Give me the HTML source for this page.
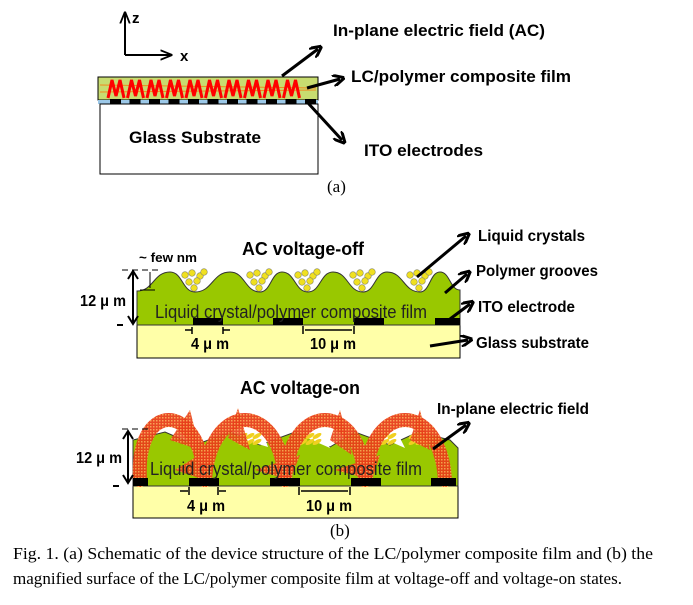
<!DOCTYPE html>
<html><head><meta charset="utf-8"><style>
html,body{margin:0;padding:0;background:#fff}
svg{display:block}
.b{font-family:"Liberation Sans",Arial,sans-serif;font-weight:bold;fill:#000}
.s{font-family:"Liberation Serif",serif;fill:#000}
</style></head><body>
<svg width="693" height="605" viewBox="0 0 693 605" xmlns="http://www.w3.org/2000/svg">
<defs>
<marker id="ah" viewBox="0 0 10 10" refX="6" refY="5" markerWidth="4" markerHeight="4" orient="auto"><path d="M0,0 L10,5 L0,10" fill="none" stroke="#000" stroke-width="2.5"/></marker>
<marker id="ahs" viewBox="0 0 10 10" refX="8" refY="5" markerWidth="6" markerHeight="6" orient="auto"><path d="M0,1 L10,5 L0,9" fill="none" stroke="#000" stroke-width="1.5"/></marker>
<pattern id="dots" width="3" height="3" patternUnits="userSpaceOnUse"><rect width="3" height="3" fill="#e8401a"/><rect width="1.5" height="1.5" fill="#f8a050"/></pattern>
</defs>

<!-- (a) -->
<g>
<line x1="125" y1="55" x2="125" y2="14" stroke="#000" stroke-width="2" marker-end="url(#ahs)"/>
<line x1="125" y1="55" x2="170" y2="55" stroke="#000" stroke-width="2" marker-end="url(#ahs)"/>
<text x="132" y="23" class="b" font-size="15">z</text>
<text x="180" y="61" class="b" font-size="15">x</text>
</g>
<rect x="98" y="77" width="220" height="23" fill="#c8dc70" stroke="#000" stroke-width="1"/>
<line x1="100" y1="85" x2="316" y2="88" stroke="#f08a20" stroke-width="1"/>
<line x1="100" y1="92" x2="316" y2="90" stroke="#f08a20" stroke-width="1"/>
<rect x="98" y="100" width="220" height="4" fill="#9cc8e8"/>
<g id="ito-a"></g>
<rect x="100" y="104" width="218" height="70" fill="#fff" stroke="#000" stroke-width="1"/>
<text x="195" y="143" class="b" font-size="17" text-anchor="middle" textLength="132" lengthAdjust="spacingAndGlyphs">Glass Substrate</text>
<path id="zig" d="" fill="none" stroke="#f00" stroke-width="3"/>
<line x1="282" y1="76" x2="318" y2="49" stroke="#000" stroke-width="3" marker-end="url(#ah)"/>
<line x1="307" y1="88" x2="340" y2="79" stroke="#000" stroke-width="3" marker-end="url(#ah)"/>
<line x1="308" y1="103" x2="342" y2="140" stroke="#000" stroke-width="3" marker-end="url(#ah)"/>
<text x="333" y="36" class="b" font-size="17" textLength="212" lengthAdjust="spacingAndGlyphs">In-plane electric field (AC)</text>
<text x="351" y="82" class="b" font-size="17" textLength="220" lengthAdjust="spacingAndGlyphs">LC/polymer composite film</text>
<text x="364" y="156" class="b" font-size="17" textLength="119" lengthAdjust="spacingAndGlyphs">ITO electrodes</text>
<text x="327" y="192" class="s" font-size="17">(a)</text>

<!-- (b) off -->
<text x="303" y="255" class="b" font-size="18" text-anchor="middle" textLength="122" lengthAdjust="spacingAndGlyphs">AC voltage-off</text>
<text x="139" y="262" class="b" font-size="13" textLength="58" lengthAdjust="spacingAndGlyphs">~ few nm</text>
<rect x="137" y="325" width="323" height="33" fill="#ffffa8" stroke="#000" stroke-width="1"/>
<path id="wave" d="" fill="#99c800" stroke="#333" stroke-width="1"/>
<g id="lcdots"></g>
<rect x="193" y="318" width="30" height="7" fill="#000"/><rect x="273" y="318" width="30" height="7" fill="#000"/><rect x="354" y="318" width="30" height="7" fill="#000"/><rect x="435" y="318" width="25" height="7" fill="#000"/>
<text x="155" y="318" font-family="Liberation Sans,Arial,sans-serif" font-size="18" fill="#222" textLength="272" lengthAdjust="spacingAndGlyphs">Liquid crystal/polymer composite film</text>
<line x1="122" y1="270" x2="160" y2="270" stroke="#000" stroke-dasharray="6,4"/>
<line x1="140" y1="290" x2="155" y2="290" stroke="#000"/>
<line x1="133" y1="273" x2="133" y2="322" stroke="#000" stroke-width="2"/>
<path d="M128,279 L133,271 L138,279 M128,316 L133,324 L138,316" fill="none" stroke="#000" stroke-width="2"/>
<line x1="150" y1="272" x2="150" y2="288" stroke="#000" stroke-width="1"/>
<line x1="117" y1="325" x2="123" y2="325" stroke="#000" stroke-width="2"/>
<text x="80" y="306" class="b" font-size="16" textLength="46" lengthAdjust="spacingAndGlyphs">12 μ m</text>
<path d="M185,330 L192,330 M192,327 L192,334 M223,327 L223,334 M230,330 L223,330" stroke="#000" stroke-width="1.5"/>
<text x="191" y="349" class="b" font-size="16" textLength="38" lengthAdjust="spacingAndGlyphs">4 μ m</text>
<path d="M303,326 L303,334 M354,326 L354,334 M305,330 L352,330" stroke="#000" stroke-width="1.5"/>
<text x="310" y="349" class="b" font-size="16" textLength="46" lengthAdjust="spacingAndGlyphs">10 μ m</text>
<line x1="417" y1="277" x2="466" y2="236" stroke="#000" stroke-width="3" marker-end="url(#ah)"/>
<line x1="445" y1="293" x2="467" y2="274" stroke="#000" stroke-width="3" marker-end="url(#ah)"/>
<line x1="450" y1="319" x2="470" y2="304" stroke="#000" stroke-width="3" marker-end="url(#ah)"/>
<line x1="430" y1="346" x2="468" y2="340" stroke="#000" stroke-width="3" marker-end="url(#ah)"/>
<text x="478" y="241" class="b" font-size="16" textLength="107" lengthAdjust="spacingAndGlyphs">Liquid crystals</text>
<text x="476" y="276" class="b" font-size="16" textLength="122" lengthAdjust="spacingAndGlyphs">Polymer grooves</text>
<text x="478" y="312" class="b" font-size="16" textLength="97" lengthAdjust="spacingAndGlyphs">ITO electrode</text>
<text x="476" y="348" class="b" font-size="16" textLength="113" lengthAdjust="spacingAndGlyphs">Glass substrate</text>

<!-- (b) on -->
<text x="300" y="394" class="b" font-size="18" text-anchor="middle" textLength="120" lengthAdjust="spacingAndGlyphs">AC voltage-on</text>
<rect x="133" y="486" width="325" height="32" fill="#ffffa8" stroke="#000" stroke-width="1"/>
<path d="M133,486 L133,440 L165,432 L195,445 L230,432 L260,445 L295,432 L330,447 L355,432 L390,445 L418,432 L450,440 L458,448 L458,486 Z" fill="#99c800" stroke="#333" stroke-width="1"/>
<path d="M245,440 L262,430 L268,447 Z M305,437 L320,428 L330,448 Z M380,437 L395,428 L405,448 Z" fill="#fff"/>
<g id="lcrods"></g>
<g fill="none" stroke="url(#dots)" stroke-width="14" stroke-linecap="round" opacity="0.95">
<path d="M140,480 C135,400 200,400 205,480"/>
<path d="M205,480 C210,400 280,400 285,480"/>
<path d="M285,480 C290,400 360,400 365,480"/>
<path d="M365,480 C370,400 440,400 445,480"/>
</g>
<g fill="url(#dots)" opacity="0.9">
<path d="M170,440 L190,410 L200,450 Z"/><path d="M228,438 L238,408 L250,450 Z"/><path d="M175,470 L215,445 L205,480 Z"/><path d="M330,440 L340,410 L352,455 Z"/><path d="M255,470 L300,455 L290,480 Z"/><path d="M410,440 L420,410 L430,450 Z"/><path d="M335,470 L380,455 L372,480 Z"/></g>
<rect x="133" y="478" width="15" height="8" fill="#000"/><rect x="189" y="478" width="30" height="8" fill="#000"/><rect x="270" y="478" width="30" height="8" fill="#000"/><rect x="351" y="478" width="30" height="8" fill="#000"/><rect x="431" y="478" width="25" height="8" fill="#000"/>
<text x="150" y="475" font-family="Liberation Sans,Arial,sans-serif" font-size="18" fill="#222" textLength="272" lengthAdjust="spacingAndGlyphs">Liquid crystal/polymer composite film</text>
<line x1="122" y1="429" x2="150" y2="429" stroke="#000" stroke-dasharray="6,4"/>
<line x1="128" y1="432" x2="128" y2="482" stroke="#000" stroke-width="2"/>
<path d="M123,439 L128,431 L133,439 M123,475 L128,483 L133,475" fill="none" stroke="#000" stroke-width="2"/>
<line x1="113" y1="486" x2="119" y2="486" stroke="#000" stroke-width="2"/>
<text x="76" y="463" class="b" font-size="16" textLength="46" lengthAdjust="spacingAndGlyphs">12 μ m</text>
<path d="M180,491 L188,491 M189,487 L189,495 M218,487 L218,495 M226,491 L219,491" stroke="#000" stroke-width="1.5"/>
<text x="187" y="511" class="b" font-size="16" textLength="38" lengthAdjust="spacingAndGlyphs">4 μ m</text>
<path d="M299,487 L299,495 M350,487 L350,495 M301,491 L348,491" stroke="#000" stroke-width="1.5"/>
<text x="306" y="511" class="b" font-size="16" textLength="46" lengthAdjust="spacingAndGlyphs">10 μ m</text>
<line x1="433" y1="449" x2="466" y2="425" stroke="#000" stroke-width="3" marker-end="url(#ah)"/>
<text x="437" y="414" class="b" font-size="16" textLength="152" lengthAdjust="spacingAndGlyphs">In-plane electric field</text>
<text x="330" y="536" class="s" font-size="17">(b)</text>

<text x="13" y="559" class="s" font-size="17" textLength="640" lengthAdjust="spacingAndGlyphs">Fig. 1. (a) Schematic of the device structure of the LC/polymer composite film and (b) the</text>
<text x="13" y="584" class="s" font-size="17" textLength="609" lengthAdjust="spacingAndGlyphs">magnified surface of the LC/polymer composite film at voltage-off and voltage-on states.</text>
</svg>
<script>
var NS="http://www.w3.org/2000/svg";
var ito=document.getElementById('ito-a');
for(var i=0;i<11;i++){var r=document.createElementNS(NS,'rect');r.setAttribute('x',110+i*19.5);r.setAttribute('y',99);r.setAttribute('width',11);r.setAttribute('height',5);r.setAttribute('fill','#000');ito.appendChild(r);}
var d="";for(var i=0;i<10;i++){var x=108+i*19.5;d+="M"+x+",98 L"+(x+4)+",80 L"+(x+8)+",96 L"+(x+12)+",80 L"+(x+16)+",98 ";}
document.getElementById('zig').setAttribute('d',d);
var pts=[[137,291],[170,272],[195,292],[230,272],[260,292],[282,272],[308,292],[333,272],[363,292],[387,272],[420,292],[440,272],[460,290]];
var wd="M137,325 L137,291";
for(var i=1;i<pts.length;i++){var a=pts[i-1],b=pts[i],m=(a[0]+b[0])/2;wd+=" C"+m+","+a[1]+" "+m+","+b[1]+" "+b[0]+","+b[1];}
wd+=" L460,325 Z";
document.getElementById('wave').setAttribute('d',wd);
var g=document.getElementById('lcdots');
var centers=[195,260,308,363,420];
centers.forEach(function(c){[[-10,-9],[-3,-11],[5,-8],[-6,-2],[2,-3],[9,-12],[-1,4]].forEach(function(o){var e=document.createElementNS(NS,'circle');e.setAttribute('cx',c+o[0]);e.setAttribute('cy',284+o[1]);e.setAttribute('r',3.3);e.setAttribute('fill','#f0e020');e.setAttribute('stroke','#886');e.setAttribute('stroke-width','0.6');g.appendChild(e);});});
var g2=document.getElementById('lcrods');
[250,310,385,420].forEach(function(c){for(var j=0;j<6;j++){var cx=c+(j%3)*7-7,cy=436+Math.floor(j/3)*6;var e=document.createElementNS(NS,'ellipse');e.setAttribute('cx',cx);e.setAttribute('cy',cy);e.setAttribute('rx',5);e.setAttribute('ry',2);e.setAttribute('transform','rotate(-30 '+cx+' '+cy+')');e.setAttribute('fill','#f0d020');g2.appendChild(e);}});
</script>
</body></html>
